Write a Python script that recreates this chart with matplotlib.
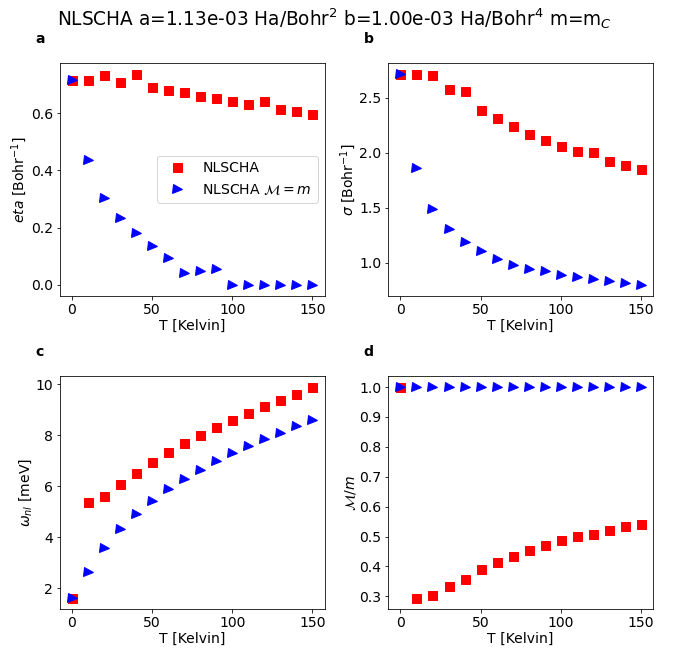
import matplotlib
matplotlib.use("Agg")
import matplotlib.pyplot as plt
from matplotlib.ticker import MultipleLocator

T = [0, 10, 20, 30, 40, 50, 60, 70, 80, 90, 100, 110, 120, 130, 140, 150]

eta_nl = [0.715, 0.717, 0.734, 0.709, 0.738, 0.691, 0.682, 0.672, 0.661, 0.651,
          0.641, 0.633, 0.643, 0.615, 0.606, 0.598]
eta_m = [0.715, 0.437, 0.305, 0.233, 0.180, 0.136, 0.094, 0.040, 0.048, 0.054,
         0.0, 0.0, 0.0, 0.0, 0.0, 0.0]

sigma_nl = [2.713, 2.720, 2.710, 2.576, 2.561, 2.390, 2.311, 2.241, 2.174, 2.116,
            2.064, 2.012, 2.006, 1.927, 1.890, 1.854]
sigma_m = [2.713, 1.860, 1.491, 1.308, 1.189, 1.101, 1.030, 0.976, 0.945, 0.921,
           0.887, 0.866, 0.848, 0.829, 0.811, 0.796]

omega_nl = [1.60, 5.37, 5.63, 6.08, 6.53, 6.95, 7.33, 7.70, 8.03, 8.34,
            8.62, 8.89, 9.16, 9.41, 9.64, 9.90]
omega_m = [1.60, 2.63, 3.59, 4.32, 4.91, 5.42, 5.88, 6.29, 6.66, 7.00,
           7.30, 7.58, 7.84, 8.11, 8.36, 8.60]

ratio_nl = [1.0, 0.293, 0.304, 0.335, 0.358, 0.390, 0.415, 0.436, 0.455, 0.473,
            0.487, 0.501, 0.509, 0.522, 0.534, 0.543]
ratio_m = [1.0] * 16

ylabels = [r"$eta$ [Bohr$^{-1}$]", r"$\sigma$ [Bohr$^{-1}$]",
           r"$\omega_{nl}$ [meV]", r"$\mathcal{M}/m$"]
panel_letters = ["a", "b", "c", "d"]
series = [(eta_nl, eta_m), (sigma_nl, sigma_m), (omega_nl, omega_m), (ratio_nl, ratio_m)]

plt.rcParams['font.size'] = 14

DPI = 72
fig, axes = plt.subplots(2, 2, figsize=(683 / DPI, 649 / DPI), dpi=DPI)
fig.subplots_adjust(left=0.0878, right=0.956, top=0.903, bottom=0.0616,
                    hspace=0.348, wspace=0.2415)

for ax, (nl, m), yl, letter in zip(axes.flat, series, ylabels, panel_letters):
    ax.plot(T, nl, 's', color='red', markersize=9, label='NLSCHA')
    ax.plot(T, m, '>', color='blue', markersize=9, label=r'NLSCHA $\mathcal{M}=m$')
    ax.set_xlabel('T [Kelvin]', labelpad=2)
    ax.set_ylabel(yl, labelpad=1.5)
    ax.text(-0.094, 1.075, letter, transform=ax.transAxes, fontweight='bold',
            fontsize=14, va='bottom', ha='left')

axes[1, 1].yaxis.set_major_locator(MultipleLocator(0.1))
axes[0, 0].legend(loc='center right')

fig.suptitle(r"NLSCHA a=1.13e-03 Ha/Bohr$^2$ b=1.00e-03 Ha/Bohr$^4$ m=m$_C$",
             fontsize=18.5, x=0.49, y=0.972, va='center')

fig.savefig("out.png", dpi=DPI)
